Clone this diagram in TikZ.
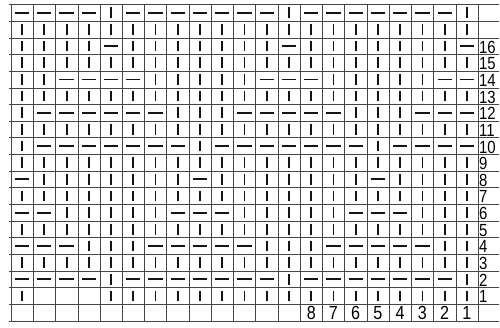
\documentclass[tikz,border=0pt]{standalone}
\usepackage{fontspec}
\usepackage{tikz}
\usetikzlibrary{positioning}
\newfontfamily\chartfont[FakeStretch=0.85]{Liberation Sans}
\definecolor{GridGray}{RGB}{70, 70, 70}
\definecolor{InkBlack}{RGB}{20, 20, 20}
\tikzset{
    gridline/.style={draw=GridGray, line width=0.6pt},
    knitbar/.style={draw=InkBlack, line width=2.6pt},
    knitdash/.style={draw=InkBlack, line width=2.6pt},
    rowlabel/.style={anchor=base west, inner sep=0pt, font=\chartfont\fontsize{25}{25}\selectfont},
    collabel/.style={anchor=base, inner sep=0pt, font=\chartfont\fontsize{27}{27}\selectfont}
}

\begin{document}
\begin{tikzpicture}[x=1.112cm, y=0.8325cm]
    \useasboundingbox (-0.4946,-0.3694) rectangle (21.9874,19.2703);

    % grid
    \foreach \k in {0,...,19}
        \draw[gridline] (-0.1,\k) -- (21.95,\k);
    \foreach \j in {0,...,21}
        \draw[gridline] (\j,0) -- (\j,19);

    % plain rows: 1 = bar, 0 = empty
    \foreach \r in {1,3,...,17}
        \foreach \c in {1,...,21} {
            \ifnum\r=1 \ifnum\c<5 \ifnum\c>1 \else
                \draw[knitbar] (\c-0.5,\r+0.18) -- (\c-0.5,\r+0.82);
            \fi \else
                \draw[knitbar] (\c-0.5,\r+0.18) -- (\c-0.5,\r+0.82);
            \fi \else
                \draw[knitbar] (\c-0.5,\r+0.18) -- (\c-0.5,\r+0.82);
            \fi
        };

    % patterned rows: 1 = bar, 2 = dash
    \foreach \r/\pat in {
        18/{2,2,2,2,1,2,2,2,2,2,2,2,1,2,2,2,2,2,2,2,1},
        16/{1,1,1,1,2,1,1,1,1,1,1,1,2,1,1,1,1,1,1,1,2},
        14/{1,1,2,2,2,2,1,1,1,1,1,2,2,2,1,1,1,1,1,2,2},
        12/{1,2,2,2,2,2,2,1,1,1,2,2,2,2,2,1,1,1,2,2,2},
        10/{1,2,2,2,2,2,2,2,1,2,2,2,2,2,2,2,1,2,2,2,2},
        8/{2,1,1,1,1,1,1,1,2,1,1,1,1,1,1,1,2,1,1,1,1},
        6/{2,2,1,1,1,1,1,2,2,2,1,1,1,1,1,2,2,2,1,1,1},
        4/{2,2,2,1,1,1,2,2,2,2,2,1,1,1,2,2,2,2,2,1,1},
        2/{2,2,2,2,1,2,2,2,2,2,2,2,1,2,2,2,2,2,2,2,1}}
        \foreach \s [count=\c] in \pat {
            \ifnum\s=1
                \draw[knitbar] (\c-0.5,\r+0.18) -- (\c-0.5,\r+0.82);
            \else
                \draw[knitdash] (\c-0.82,\r+0.5) -- (\c-0.18,\r+0.5);
            \fi
        };

    % row numbers
    \foreach \r in {1,...,16}
        \node[rowlabel] (row\r) at (21.04,\r+0.08) {\r};

    % column numbers
    \foreach \k in {1,...,8}
        \node[collabel] (col\k) at (21.5-\k,0.06) {\k};
\end{tikzpicture}
\end{document}
